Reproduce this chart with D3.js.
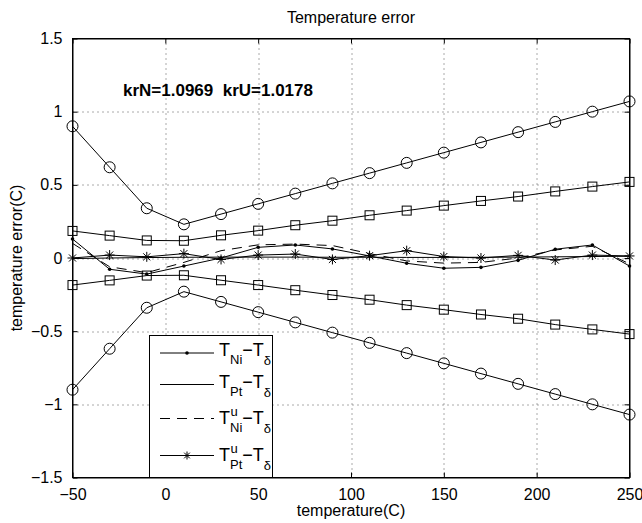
<!DOCTYPE html>
<html>
<head>
<meta charset="utf-8">
<script src="https://cdn.jsdelivr.net/npm/d3@7"></script>
<style>
  body { margin: 0; background: #fff; }
  text { font-family: "Liberation Sans", Arial, sans-serif; fill: #000; }
</style>
</head>
<body>
<div id="chart"></div>
<script>
var svgWidth = 642;
var svgHeight = 523;

var margin = { top: 38.5, right: 12.5, bottom: 45.5, left: 72.5 };
var width = svgWidth - margin.left - margin.right;
var height = svgHeight - margin.top - margin.bottom;

// temperatures (C) where the errors were sampled
var temps = [-50, -30, -10, 10, 30, 50, 70, 90, 110, 130, 150, 170, 190, 210, 230, 250];

// error envelopes
var circleUp = [0.90, 0.62, 0.34, 0.23, 0.30, 0.37, 0.44, 0.51, 0.58, 0.65, 0.72, 0.79, 0.86, 0.93, 1.00, 1.07];
var circleDown = [-0.90, -0.62, -0.34, -0.23, -0.30, -0.37, -0.44, -0.51, -0.58, -0.65, -0.72, -0.79, -0.86, -0.93, -1.00, -1.07];
var squareUp = [0.185, 0.153, 0.12, 0.118, 0.155, 0.187, 0.224, 0.255, 0.292, 0.324, 0.358, 0.39, 0.42, 0.455, 0.488, 0.52];
var squareDown = [-0.185, -0.153, -0.12, -0.118, -0.152, -0.185, -0.22, -0.253, -0.285, -0.322, -0.353, -0.386, -0.415, -0.455, -0.488, -0.52];

// sensor errors
var tNi = [0.13, -0.077, -0.11, -0.055, 0.0, 0.073, 0.089, 0.062, 0.014, -0.036, -0.07, -0.064, -0.016, 0.06, 0.089, -0.055];
var tPt = [-0.004, 0.0, 0.003, 0.005, 0.006, 0.006, 0.006, 0.005, 0.005, 0.004, 0.004, 0.005, 0.006, 0.008, 0.01, 0.012];
var tuNi = [0.1, -0.06, -0.1, -0.03, 0.05, 0.09, 0.095, 0.085, 0.03, -0.02, -0.035, -0.03, 0.0, 0.055, 0.08, -0.04];
var tuPt = [0.0, 0.02, 0.008, 0.03, -0.01, 0.02, 0.027, -0.01, 0.016, 0.05, 0.01, 0.0, 0.018, -0.014, 0.02, 0.014];

var xTicks = [-50, 0, 50, 100, 150, 200, 250];
var yTicks = [-1.5, -1, -0.5, 0, 0.5, 1, 1.5];

var svg = d3.select("#chart")
  .append("svg")
  .attr("width", svgWidth)
  .attr("height", svgHeight);

var chartGroup = svg.append("g")
  .attr("transform", `translate(${margin.left}, ${margin.top})`);

var xScale = d3.scaleLinear().domain([-50, 250]).range([0, width]);
var yScale = d3.scaleLinear().domain([-1.5, 1.5]).range([height, 0]);

var fmt = d => String(d).replace("-", "\u2212");

// dotted grid
chartGroup.append("g")
  .selectAll("line")
  .data(xTicks.slice(1, -1))
  .enter()
  .append("line")
  .attr("x1", d => Math.round(xScale(d)) + 0.5)
  .attr("x2", d => Math.round(xScale(d)) + 0.5)
  .attr("y1", 0)
  .attr("y2", height)
  .attr("stroke", "#555")
  .attr("stroke-dasharray", "1,4");

chartGroup.append("g")
  .selectAll("line")
  .data(yTicks.slice(1, -1))
  .enter()
  .append("line")
  .attr("x1", 0)
  .attr("x2", width)
  .attr("y1", d => Math.round(yScale(d)) + 0.5)
  .attr("y2", d => Math.round(yScale(d)) + 0.5)
  .attr("stroke", "#555")
  .attr("stroke-dasharray", "1,4");

// axes with inward ticks on all four sides
var bottomAxis = d3.axisBottom(xScale).tickValues(xTicks).tickSizeInner(-5).tickSizeOuter(0).tickFormat(fmt).tickPadding(11);
var topAxis = d3.axisTop(xScale).tickValues(xTicks).tickSizeInner(-5).tickSizeOuter(0).tickFormat("");
var leftAxis = d3.axisLeft(yScale).tickValues(yTicks).tickSizeInner(-5).tickSizeOuter(0).tickFormat(fmt).tickPadding(10);
var rightAxis = d3.axisRight(yScale).tickValues(yTicks).tickSizeInner(-5).tickSizeOuter(0).tickFormat("");

chartGroup.append("g").attr("transform", `translate(0, ${height})`).call(bottomAxis);
chartGroup.append("g").call(topAxis);
chartGroup.append("g").call(leftAxis);
chartGroup.append("g").attr("transform", `translate(${width}, 0)`).call(rightAxis);

chartGroup.selectAll(".domain").attr("stroke", "#000");
chartGroup.selectAll(".tick line").attr("stroke", "#000");
chartGroup.selectAll(".tick text")
  .style("font-family", '"Liberation Sans", Arial, sans-serif')
  .style("font-size", "16px")
  .attr("fill", "#000");

var line = d3.line()
  .x(d => xScale(d[0]))
  .y(d => yScale(d[1]));

function pairs(vals) {
  return temps.map((t, i) => [t, vals[i]]);
}

var plot = chartGroup.append("g");

function drawLine(vals, dash) {
  plot.append("path")
    .datum(pairs(vals))
    .attr("fill", "none")
    .attr("stroke", "#000")
    .attr("stroke-width", 1)
    .attr("stroke-dasharray", dash || null)
    .attr("d", line);
}

function asterisk(s) {
  var a = s * 0.7071;
  return `M0,${-s}L0,${s}M${-s},0L${s},0M${-a},${-a}L${a},${a}M${-a},${a}L${a},${-a}`;
}

function drawMarkers(vals, kind) {
  var g = plot.append("g");
  var pts = g.selectAll("g").data(pairs(vals)).enter().append("g")
    .attr("transform", d => `translate(${xScale(d[0])},${yScale(d[1])})`);
  if (kind === "circle") {
    pts.append("circle").attr("r", 5.5).attr("fill", "none").attr("stroke", "#000");
  } else if (kind === "square") {
    pts.append("rect").attr("x", -4.5).attr("y", -4.5).attr("width", 9).attr("height", 9)
      .attr("fill", "none").attr("stroke", "#000");
  } else if (kind === "dot") {
    pts.append("circle").attr("r", 1.8).attr("fill", "#000");
  } else if (kind === "star") {
    pts.append("path").attr("d", asterisk(5)).attr("fill", "none").attr("stroke", "#000");
  }
}

drawLine(circleUp); drawMarkers(circleUp, "circle");
drawLine(circleDown); drawMarkers(circleDown, "circle");
drawLine(squareUp); drawMarkers(squareUp, "square");
drawLine(squareDown); drawMarkers(squareDown, "square");
drawLine(tPt);
drawLine(tuNi, "10,7");
drawLine(tNi); drawMarkers(tNi, "dot");
drawLine(tuPt); drawMarkers(tuPt, "star");

// box
chartGroup.append("rect")
  .attr("width", width)
  .attr("height", height)
  .attr("fill", "none")
  .attr("stroke", "#000");

// annotation
chartGroup.append("text")
  .attr("x", 123 - margin.left)
  .attr("y", 96 - margin.top)
  .attr("xml:space", "preserve")
  .style("font-weight", "bold")
  .style("font-size", "17px")
  .text("krN=1.0969  krU=1.0178");

// title and axis labels
svg.append("text")
  .attr("x", margin.left + width / 2)
  .attr("y", 23)
  .attr("text-anchor", "middle")
  .style("font-size", "16px")
  .text("Temperature error");

svg.append("text")
  .attr("x", margin.left + width / 2)
  .attr("y", 516)
  .attr("text-anchor", "middle")
  .style("font-size", "16px")
  .text("temperature(C)");

svg.append("text")
  .attr("transform", "rotate(-90)")
  .attr("x", -(margin.top + height / 2))
  .attr("y", 22)
  .attr("text-anchor", "middle")
  .style("font-size", "16px")
  .text("temperature error(C)");

// legend
var legendItems = [
  { sub: "Ni", sup: "", dash: null, marker: "dot", y: 353 },
  { sub: "Pt", sup: "", dash: null, marker: null, y: 384.5 },
  { sub: "Ni", sup: "u", dash: "10,7", marker: null, y: 418.5 },
  { sub: "Pt", sup: "u", dash: null, marker: "star", y: 455.5 }
];

var legend = svg.append("g");
legend.append("rect")
  .attr("x", 149.5)
  .attr("y", 335.5)
  .attr("width", 123)
  .attr("height", 142)
  .attr("fill", "#fff")
  .attr("stroke", "#000");

legendItems.forEach(function(item) {
  legend.append("line")
    .attr("x1", 160).attr("x2", 214)
    .attr("y1", item.y).attr("y2", item.y)
    .attr("stroke", "#000")
    .attr("stroke-dasharray", item.dash);
  if (item.marker === "dot") {
    legend.append("circle").attr("cx", 187).attr("cy", item.y).attr("r", 1.8).attr("fill", "#000");
  } else if (item.marker === "star") {
    legend.append("path").attr("transform", `translate(187,${item.y})`)
      .attr("d", asterisk(4)).attr("fill", "none").attr("stroke", "#000");
  }
  var base = item.y + (item.sup ? 5 : 3);
  var t = legend.append("text")
    .attr("x", 219)
    .attr("y", base)
    .style("font-size", "18px");
  t.append("tspan").text("T");
  if (item.sup) {
    var x0 = 219 + 18 * 0.611;
    legend.append("text")
      .attr("x", x0 + 0.5)
      .attr("y", base - 8)
      .style("font-size", "13px")
      .text(item.sup);
  }
  t.append("tspan").attr("dy", 8).style("font-size", "13px").text(item.sub);
  t.append("tspan").attr("dy", -8).text("\u2212T");
  t.append("tspan").attr("dy", 9).style("font-size", "13px").text("\u03b4");
});
</script>
</body>
</html>
